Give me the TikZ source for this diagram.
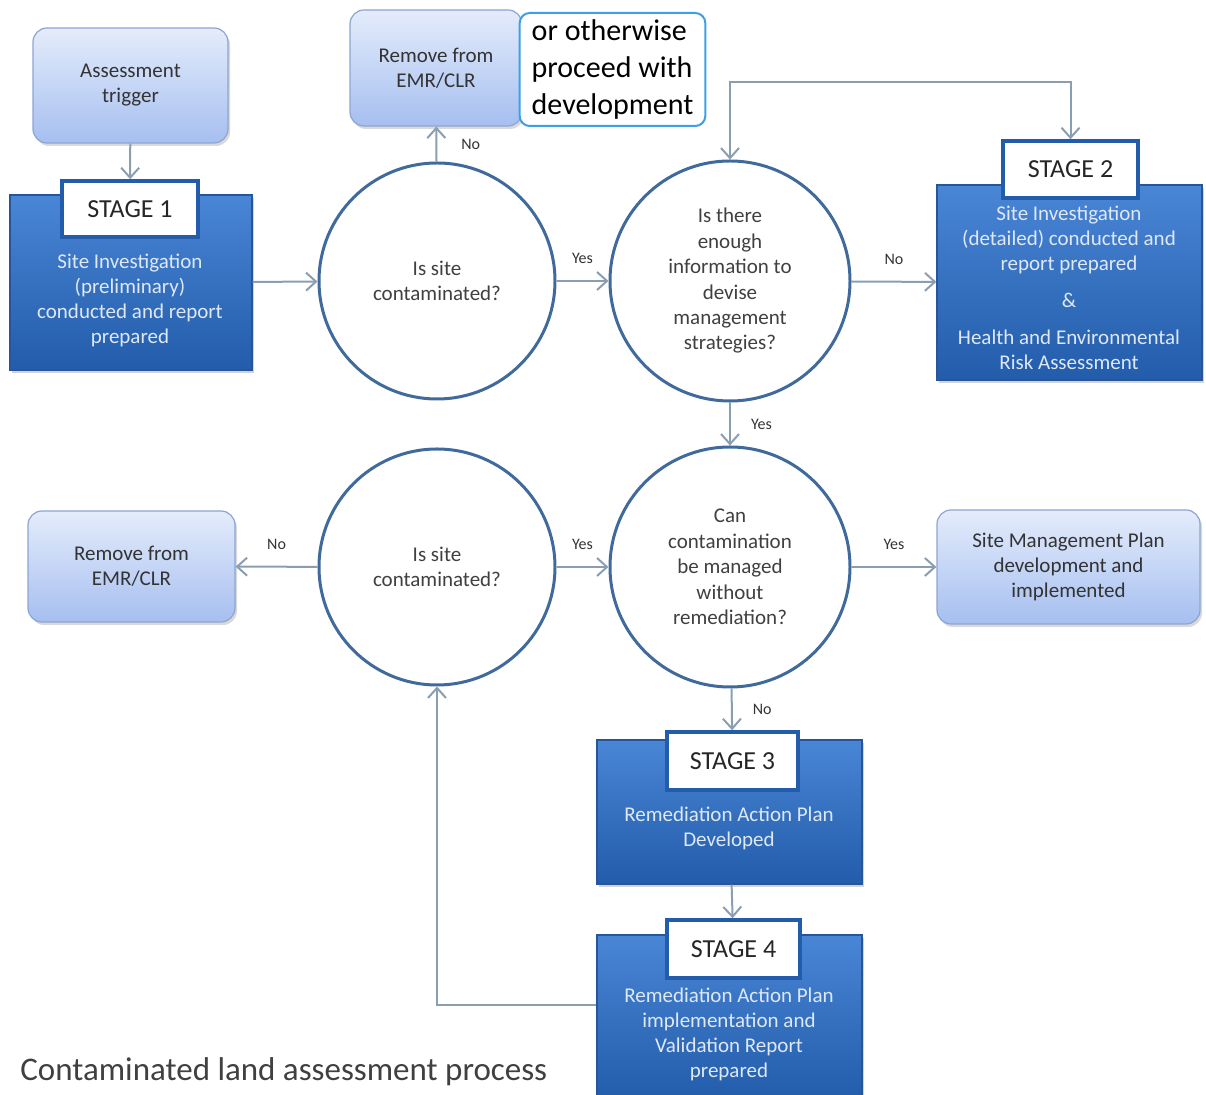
\documentclass[tikz,border=0pt]{standalone}
\usepackage{fontspec}
\setmainfont{Carlito}
\usetikzlibrary{arrows.meta}
\usetikzlibrary{shadows}

\definecolor{stgtop}{RGB}{74,134,214}
\definecolor{stgbot}{RGB}{34,92,170}
\definecolor{stgline}{RGB}{38,86,152}
\definecolor{paletop}{RGB}{228,236,251}
\definecolor{palebot}{RGB}{166,191,240}
\definecolor{paleline}{RGB}{140,165,210}
\definecolor{ringcol}{RGB}{64,106,156}
\definecolor{linkcol}{RGB}{138,158,178}
\definecolor{notecol}{RGB}{60,160,230}
\definecolor{stgtext}{RGB}{222,232,246}

\tikzset{
  stagebox/.style={draw=stgline, line width=0.6pt, top color=stgtop, bottom color=stgbot,
    drop shadow={opacity=0.35, shadow xshift=1pt, shadow yshift=-1.5pt}},
  stagetext/.style={text=stgtext, align=center, font=\fontsize{10.5}{12.5}\selectfont},
  stagetag/.style={draw=stgbot, line width=1.8pt, fill=white, text=black!85,
    font=\fontsize{13}{15}\selectfont},
  palebox/.style={draw=paleline, line width=0.6pt, rounded corners=7pt, top color=paletop,
    bottom color=palebot, text=black!80, align=center, font=\fontsize{10.5}{12.5}\selectfont,
    drop shadow={opacity=0.3, shadow xshift=1pt, shadow yshift=-1.5pt}},
  query/.style={circle, draw=ringcol, line width=1.5pt, fill=white, inner sep=0pt,
    text=black!75, align=center, font=\fontsize{10.5}{12.7}\selectfont},
  link/.style={draw=linkcol, line width=1pt, -{Straight Barb[length=5pt,width=9pt]}},
  tag/.style={font=\fontsize{8}{9}\selectfont, text=black!80, inner sep=2pt},
}

\begin{document}
\begin{tikzpicture}[x=0.5pt,y=0.5pt,yscale=-1,xscale=1]
\useasboundingbox (0,0) rectangle (1206,1095);

%Pale boxes
\node[palebox, minimum width=97.5pt, minimum height=57.5pt] (trig) at (130.5,85.5) {Assessment\\trigger};
\node[palebox, minimum width=86pt, minimum height=58pt] (rem1) at (436,68) {Remove from\\EMR/CLR};
\node[palebox, minimum width=103.5pt, minimum height=55.5pt] (rem2) at (131.5,566.5) {Remove from\\EMR/CLR};
\node[palebox, minimum width=131.5pt, minimum height=57pt] (smp) at (1068.5,567) {Site Management Plan\\development and\\implemented};

%Note beside the top box
\node[draw=notecol, line width=1pt, rounded corners=5pt, fill=white, align=left,
  minimum width=92.5pt, minimum height=56.5pt, inner xsep=6pt,
  font=\fontsize{15}{18.5}\selectfont] (note) at (612.5,69.5) {or otherwise\\proceed with\\development};

%Stage 1
\node[stagebox, minimum width=121pt, minimum height=87.5pt] (stg1) at (131,282.5) {};
\node[stagetext] (stg1txt) at (130,300) {Site Investigation\\(preliminary)\\conducted and report\\prepared};
\node[stagetag, minimum width=68pt, minimum height=28pt] (lab1) at (130,209) {STAGE 1};

%Stage 2
\node[stagebox, minimum width=132.5pt, minimum height=97.5pt] (stg2) at (1069.5,282.5) {};
\node[stagetext] (stg2txt) at (1069,287.5) {Site Investigation\\(detailed) conducted and\\report prepared\\[6pt]\&\\[6pt]Health and Environmental\\Risk Assessment};
\node[stagetag, minimum width=67.5pt, minimum height=28.5pt] (lab2) at (1070.5,169.5) {STAGE 2};

%Stage 3
\node[stagebox, minimum width=132.5pt, minimum height=72pt] (stg3) at (729.5,812) {};
\node[stagetext] (stg3txt) at (729,828.5) {Remediation Action Plan\\Developed};
\node[stagetag, minimum width=65.5pt, minimum height=29pt] (lab3) at (732.5,761) {STAGE 3};

%Stage 4
\node[stagebox, minimum width=132.5pt, minimum height=82.5pt] (stg4) at (729.5,1017.5) {};
\node[stagetext] (stg4txt) at (729,1034.5) {Remediation Action Plan\\implementation and\\Validation Report\\prepared};
\node[stagetag, minimum width=66.5pt, minimum height=29pt] (lab4) at (733.5,949) {STAGE 4};

%Questions
\node[query, minimum size=118pt] (circ1) at (437,281) {Is site\\contaminated?};
\node[query, minimum size=120pt] (circ2) at (730,281) {Is there\\enough\\information to\\devise\\management\\strategies?};
\node[query, minimum size=120pt] (circ3) at (730,567) {Can\\contamination\\be managed\\without\\remediation?};
\node[query, minimum size=118pt] (circ4) at (437,567) {Is site\\contaminated?};

%Connectors
\draw[link] (trig) -- (lab1);
\draw[link] (stg1) -- (circ1);
\draw[link] (circ1) -- node[tag, right=10pt] {No} (rem1);
\draw[link] (circ1) -- node[tag, above=6pt] {Yes} (circ2);
\draw[link] (circ2) -- node[tag, above=6pt] {No} (stg2);
\draw[link] (circ2) -- node[tag, right=8pt] {Yes} (circ3);
\draw[link] (circ4) -- node[tag, above=6pt] {No} (rem2);
\draw[link] (circ4) -- node[tag, above=6pt] {Yes} (circ3);
\draw[link] (circ3) -- node[tag, above=6pt] {Yes} (smp);
\draw[link] (circ3) -- node[tag, right=8pt] {No} (lab3);
\draw[link] (stg3) -- (lab4);

%Loop over to stage 2, tips at both ends
\coordinate (over) at (730,82);
\draw[link, {Straight Barb[length=5pt,width=9pt]}-{Straight Barb[length=5pt,width=9pt]}] (circ2.north) -- (over) -| (lab2.north);

%Loop back from stage 4
\coordinate (back) at (437,1005);
\draw[link] (stg4.west |- back) -- (back) -- (circ4.south);

% Text Node
\node[anchor=west, inner sep=0pt, text=black!75, font=\fontsize{16.5}{19}\selectfont] (caption) at (20,1072) {Contaminated land assessment process};
\end{tikzpicture}
\end{document}
